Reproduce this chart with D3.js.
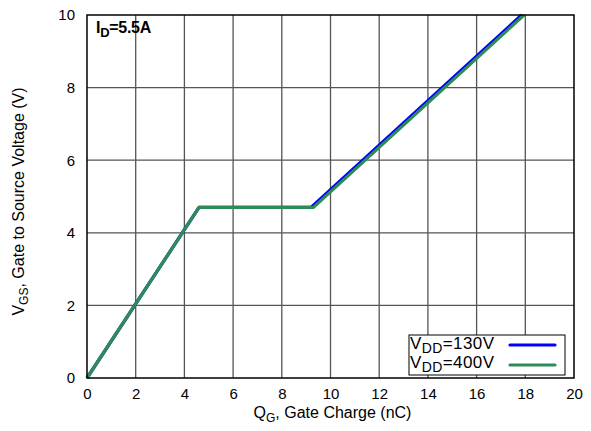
<!DOCTYPE html>
<html>
<head>
<meta charset="UTF-8">
<script src="https://d3js.org/d3.v7.min.js"></script>
<style>
  body { margin: 0; background: #fff; }
  text { font-family: "Liberation Sans", Arial, sans-serif; }
</style>
</head>
<body>
<div id="chart"></div>
<script>
// -- data --
const xTicks = [0, 2, 4, 6, 8, 10, 12, 14, 16, 18, 20];
const yTicks = [0, 2, 4, 6, 8, 10];
const seriesNames = ["130V", "400V"];
const seriesColors = ["#0000ff", "#2e8b57"];
const qg130 = [0, 4.6, 9.2, 17.85];
const vgs130 = [0, 4.7, 4.7, 10];
const qg400 = [0, 4.6, 9.3, 17.95];
const vgs400 = [0, 4.7, 4.7, 10];

const width = 591, height = 431;
const m = { left: 87, right: 17, top: 15, bottom: 53 };

const svg = d3.select("#chart").append("svg")
    .attr("width", width)
    .attr("height", height);

const x = d3.scaleLinear().domain([0, 20]).range([m.left, width - m.right]);
const y = d3.scaleLinear().domain([0, 10]).range([height - m.bottom, m.top]);

// grid
svg.append("g").selectAll("line").data(xTicks.slice(1, -1)).enter().append("line")
    .attr("x1", d => x(d)).attr("x2", d => x(d))
    .attr("y1", y(0)).attr("y2", y(10))
    .attr("stroke", "#555").attr("stroke-width", 1.3);
svg.append("g").selectAll("line").data(yTicks.slice(1, -1)).enter().append("line")
    .attr("x1", x(0)).attr("x2", x(20))
    .attr("y1", d => y(d)).attr("y2", d => y(d))
    .attr("stroke", "#555").attr("stroke-width", 1.3);

// axes (labels only)
const xAxis = svg.append("g")
    .attr("transform", `translate(0,${y(0)})`)
    .call(d3.axisBottom(x).tickValues(xTicks).tickSize(0).tickPadding(10));
xAxis.select(".domain").remove();
xAxis.selectAll("text").attr("font-size", 15).attr("fill", "#000")
    .style("font-family", "'Liberation Sans', Arial, sans-serif");

const yAxis = svg.append("g")
    .attr("transform", `translate(${x(0)},0)`)
    .call(d3.axisLeft(y).tickValues(yTicks).tickSize(0).tickPadding(12));
yAxis.select(".domain").remove();
yAxis.selectAll("text").attr("font-size", 15).attr("fill", "#000")
    .style("font-family", "'Liberation Sans', Arial, sans-serif");

// curves
const line = d3.line().x(d => x(d[0])).y(d => y(d[1]));
const series = [
  d3.zip(qg130, vgs130),
  d3.zip(qg400, vgs400)
];
series.forEach((s, i) => {
  svg.append("path").datum(s)
      .attr("d", line)
      .attr("fill", "none")
      .attr("stroke", seriesColors[i])
      .attr("stroke-width", 3.2)
      .attr("stroke-linejoin", "round");
});

// frame
svg.append("rect")
    .attr("x", x(0)).attr("y", y(10))
    .attr("width", x(20) - x(0)).attr("height", y(0) - y(10))
    .attr("fill", "none").attr("stroke", "#000").attr("stroke-width", 1.5);

// I_D annotation
const id = svg.append("text").attr("x", x(0) + 9).attr("y", y(10) + 18)
    .attr("font-size", 16).attr("font-weight", "bold").attr("letter-spacing", -0.3);
id.append("tspan").text("I");
id.append("tspan").attr("font-size", 13).attr("dy", 4).text("D");
id.append("tspan").attr("dy", -4).text("=5.5A");

// legend
const lg = svg.append("g").attr("transform", "translate(409,335)");
lg.append("rect").attr("width", 156).attr("height", 40)
    .attr("fill", "#fff").attr("stroke", "#000").attr("stroke-width", 1);
seriesNames.forEach((n, i) => {
  const t = lg.append("text").attr("x", 1).attr("y", 14 + i * 19)
      .attr("font-size", 17).attr("letter-spacing", 0.4);
  t.append("tspan").text("V");
  t.append("tspan").attr("font-size", 14).attr("dy", 4).text("DD");
  t.append("tspan").attr("dy", -4).text("=" + n);
  lg.append("line").attr("x1", 101).attr("x2", 146)
      .attr("y1", 10 + i * 20).attr("y2", 10 + i * 20)
      .attr("stroke", seriesColors[i]).attr("stroke-width", 3.2)
      .attr("stroke-linecap", "round");
});

// axis titles
const xt = svg.append("text").attr("x", (x(0) + x(20)) / 2 + 2).attr("y", 418)
    .attr("text-anchor", "middle").attr("font-size", 16);
xt.append("tspan").text("Q");
xt.append("tspan").attr("font-size", 12).attr("dy", 4).text("G");
xt.append("tspan").attr("dy", -4).text(", Gate Charge (nC)");

const yt = svg.append("text")
    .attr("transform", `translate(24,${(y(0) + y(10)) / 2 + 5}) rotate(-90)`)
    .attr("text-anchor", "middle").attr("font-size", 16);
yt.append("tspan").text("V");
yt.append("tspan").attr("font-size", 12).attr("dy", 4).text("GS");
yt.append("tspan").attr("dy", -4).text(", Gate to Source Voltage (V)");
</script>
</body>
</html>
